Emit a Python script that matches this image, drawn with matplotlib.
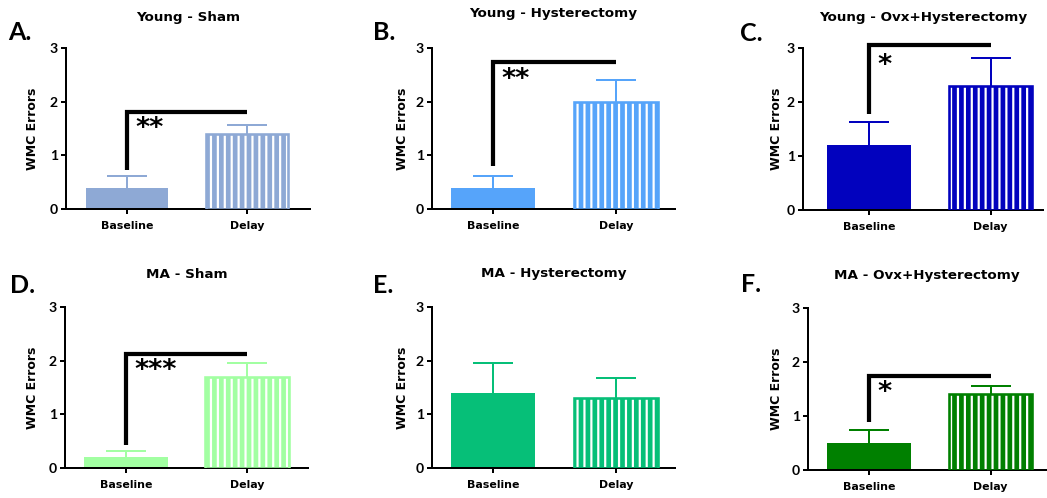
import matplotlib
matplotlib.use("Agg")
import matplotlib.pyplot as plt

# ---------------- data ----------------
titles = ["Young - Sham", "Young - Hysterectomy", "Young - Ovx+Hysterectomy",
          "MA - Sham", "MA - Hysterectomy", "MA - Ovx+Hysterectomy"]
panel_letters = ["A.", "B.", "C.", "D.", "E.", "F."]
categories = ["Baseline", "Delay"]
baseline_mean = [0.4, 0.4, 1.2, 0.2, 1.4, 0.5]
baseline_sem = [0.21, 0.21, 0.43, 0.12, 0.55, 0.25]
delay_mean = [1.4, 2.0, 2.3, 1.7, 1.3, 1.4]
delay_sem = [0.16, 0.41, 0.52, 0.26, 0.38, 0.15]
colors = ["#8EA9D5", "#56A4FA", "#0202BE", "#A2FFA2", "#06BF78", "#008000"]
sig_text = ["**", "**", "*", "***", "", "*"]
bracket_low = [0.72, 0.80, 1.77, 0.42, None, 0.88]
bracket_high = [1.80, 2.73, 3.05, 2.13, None, 1.74]
star_y = [1.50, 2.40, 2.67, 1.81, None, 1.42]
yticks = [0, 1, 2, 3]
ylabel = "WMC Errors"

# ---------------- layout ----------------
W, H, DPI = 1047, 498, 83
P = 72.0 / DPI  # points per pixel

def pt(px):
    return px * P

plt.rcParams['font.family'] = ['DejaVu Sans']
plt.rcParams['font.weight'] = 'bold'
plt.rcParams['hatch.linewidth'] = pt(2.2)

fig = plt.figure(figsize=(W / DPI, H / DPI), dpi=DPI)

# (spine_x, baseline_center, delay_center, right, top, bottom) in pixels
geo = [
    (66, 127, 247, 310, 48, 209),
    (432, 493, 616, 675, 48, 209),
    (803, 869, 990.5, 1043, 48, 210),
    (65, 126, 247, 308, 307, 468),
    (432, 493, 616, 675, 307, 468),
    (808, 869, 990.5, 1046, 308, 470),
]
title_y = [18, 14, 17, 275, 273, 275]
letter_pos = [(8, 40), (373, 40), (740, 41), (10, 293), (373, 293), (741, 292)]
ylabel_x = [32, 402, 776, 32, 402, 776]

def fx(px):
    return px / W

def fy(py):
    return 1 - py / H

bw = 0.69
for i in range(6):
    sx, c0, c1, rx, ty, by = geo[i]
    sp = c1 - c0
    ax = fig.add_axes([fx(sx), fy(by), fx(rx - sx), (by - ty) / H])
    ax.set_xlim(-(c0 - sx) / sp, 1 + (rx - c1) / sp)
    ax.set_ylim(0, 3)
    col = colors[i]
    x = [0, 1]
    means = [baseline_mean[i], delay_mean[i]]
    # error bars (upper only)
    eb = ax.errorbar(x, means,
                     yerr=[[0, 0], [baseline_sem[i], delay_sem[i]]],
                     fmt='none', ecolor=col, elinewidth=pt(2), capsize=pt(20),
                     capthick=pt(2), zorder=1)
    for cl in eb[1]:
        if list(cl.get_ydata()) == means:
            cl.set_visible(False)
    # baseline solid bar
    ax.bar(0, baseline_mean[i], width=bw, color=col, edgecolor='none', zorder=2)
    # delay striped bar
    ax.bar(1, delay_mean[i], width=bw, color=col, edgecolor='white',
           hatch='||', linewidth=0, zorder=2)
    ax.bar(1, delay_mean[i], width=bw, fill=False, edgecolor=col,
           linewidth=pt(2.6), zorder=3)

    # significance bracket
    if sig_text[i]:
        ax.plot([0, 0, 1], [bracket_low[i], bracket_high[i], bracket_high[i]],
                color='black', lw=pt(4.2), solid_joinstyle='miter',
                solid_capstyle='butt', clip_on=False, zorder=4)
        ax.text(0.07, star_y[i], sig_text[i], ha='left', va='center',
                fontsize=pt(27), fontweight='bold', color='black', zorder=5)

    for s in ['top', 'right']:
        ax.spines[s].set_visible(False)
    for s in ['left', 'bottom']:
        ax.spines[s].set_linewidth(pt(2))
        ax.spines[s].set_color('black')
    ax.set_yticks(yticks)
    ax.set_yticklabels([str(t) for t in yticks], fontsize=pt(14),
                       fontweight='bold', family='Lato')
    ax.set_xticks(x)
    ax.set_xticklabels(categories, fontsize=pt(11), fontweight='bold')
    ax.tick_params(axis='both', length=pt(5), width=pt(2), color='black')
    ax.tick_params(axis='y', pad=pt(3))
    ax.tick_params(axis='x', pad=pt(7))

    fig.text(fx((sx + rx) / 2), fy(title_y[i]), titles[i], ha='center',
             va='center', fontsize=pt(13.5), fontweight='bold')
    lx, ly = letter_pos[i]
    fig.text(fx(lx), fy(ly), panel_letters[i], ha='left', va='baseline',
             fontsize=pt(25), fontweight='bold', family='Lato')
    fig.text(fx(ylabel_x[i]), fy((ty + by) / 2), ylabel, rotation=90,
             ha='center', va='center', fontsize=pt(12.5), fontweight='bold')

fig.savefig("out.png", dpi=DPI)
